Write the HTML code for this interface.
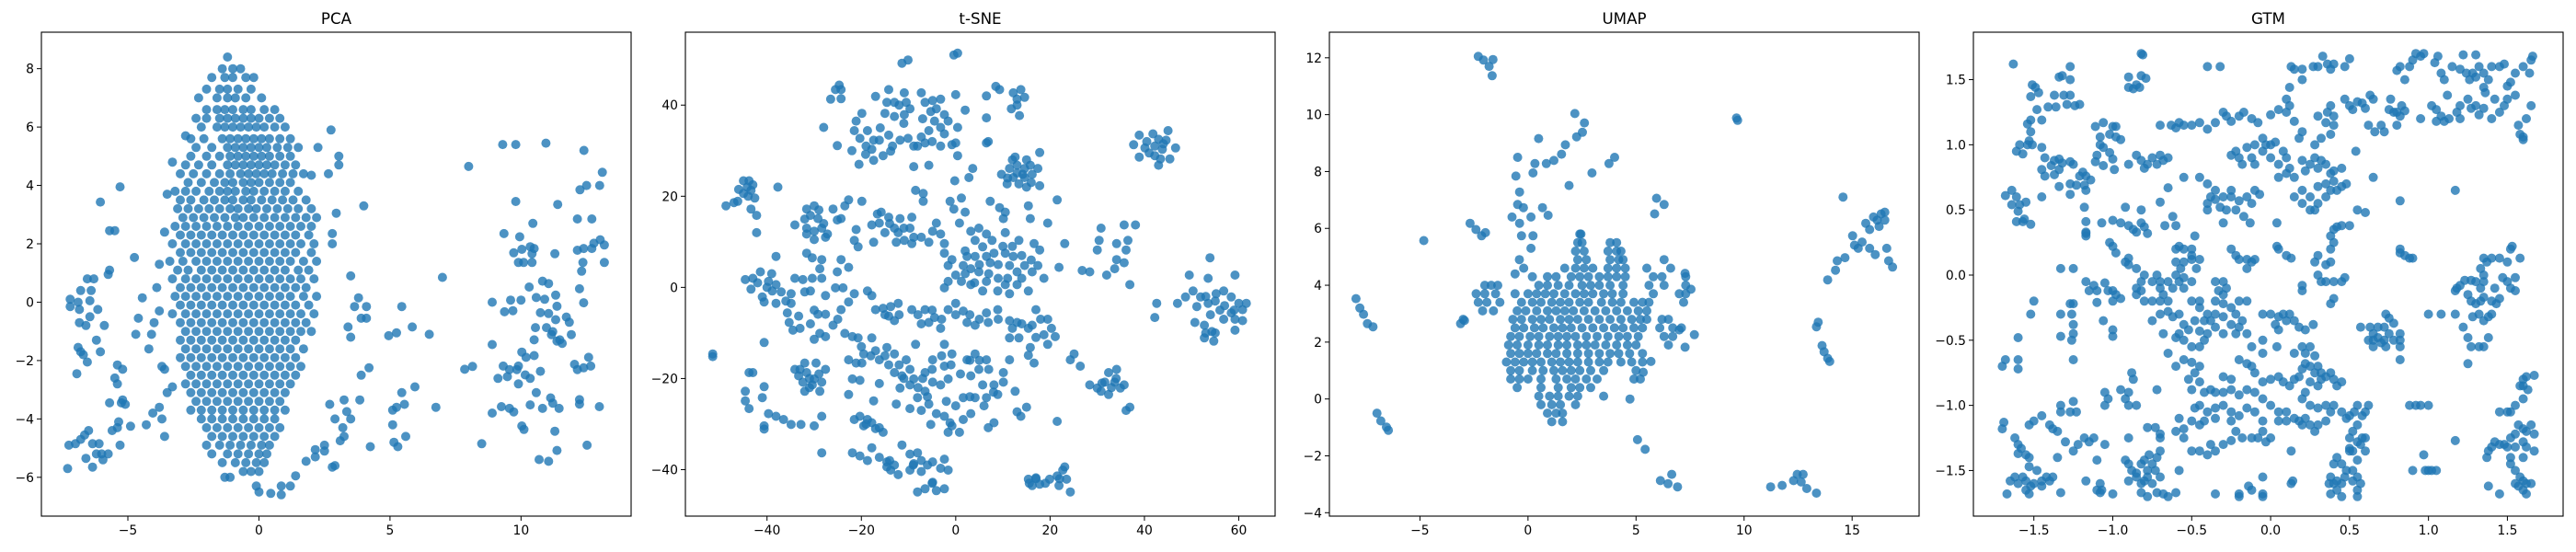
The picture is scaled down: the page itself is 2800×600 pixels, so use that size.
<!DOCTYPE html>
<html><head><meta charset="utf-8"><title>Dimensionality reduction comparison</title>
<style>
html,body{margin:0;padding:0;background:#fff;}
svg{display:block;font-family:"DejaVu Sans","Liberation Sans",sans-serif;}
</style></head>
<body>
<svg id="fig" width="2800" height="600" viewBox="0 0 2800 600" xmlns="http://www.w3.org/2000/svg"></svg>
<script>
// ---------------- PCA data ----------------
const pcaXTicks = [-5, 0, 5, 10];
const pcaYTicks = [-6, -4, -2, 0, 2, 4, 6, 8];
const pcaCoreRows = [
[8.4,[-1.2]],[8.0,[-1.4,-1.0,-0.7]],[7.7,[-1.8,-1.3,-1.0,-0.5,-0.2]],[7.3,[-2.0,-1.5,-1.2,-0.8,-0.3]],
[7.0,[-2.3,-1.6,-1.2,-0.9,-0.5,0.1]],[6.6,[-2.0,-1.6,-1.3,-1.0,-0.6,-0.3,0.2,0.6]],
[6.3,[-2.4,-2.0,-1.5,-1.2,-0.9,-0.6,-0.3,0,0.4,0.8]],[6.0,[-2.2,-1.6,-1.3,-1.0,-0.7,-0.4,-0.1,0.2,0.6,1.0]],
[5.6,[-2.6,-2.1,-1.4,-1.1,-0.8,-0.5,-0.2,0.1,0.4,0.8,1.2]],[5.3,[-2.4,-1.8,-1.2,-0.9,-0.6,-0.3,0,0.3,0.7,1.1,1.5]],
[5.0,[-2.6,-2.0,-1.5,-1.1,-0.8,-0.5,-0.2,0.1,0.4,0.8,1.2]],[4.7,[-2.8,-2.3,-1.8,-1.2,-0.9,-0.6,-0.3,0,0.3,0.6,1.0,1.4]],
[4.4,[-3.0,-2.5,-2.0,-1.5,-1.1,-0.7,-0.4,-0.1,0.2,0.5,0.9,1.3,1.7]],[4.1,[-2.7,-2.2,-1.7,-1.3,-1.0,-0.6,-0.3,0,0.4,0.8,1.2]],
[3.8,[-3.2,-2.8,-2.4,-1.9,-1.5,-1.2,-0.9,-0.5,-0.2,0.2,0.6,1.0,1.5]],[3.5,[-3.0,-2.6,-2.1,-1.7,-1.3,-1.0,-0.6,-0.3,0.1,0.5,0.9,1.3,1.8]],
[3.2,[-3.1,-2.7,-2.3,-1.9,-1.5,-1.1,-0.8,-0.4,-0.1,0.3,0.7,1.1,1.5,2.0]],[2.9,[-2.9,-2.5,-2.1,-1.7,-1.3,-0.9,-0.6,-0.2,0.2,0.6,1.0,1.4,1.8,2.2]],
[2.6,[-3.2,-2.8,-2.4,-2.0,-1.6,-1.2,-0.8,-0.4,0,0.4,0.8,1.2,1.6,2.0]],[2.3,[-3.0,-2.6,-2.2,-1.8,-1.4,-1.0,-0.6,-0.2,0.2,0.6,1.0,1.4,1.9]],
[2.0,[-3.3,-2.8,-2.4,-2.0,-1.6,-1.2,-0.8,-0.4,0,0.4,0.8,1.2,1.6,2.1]],[1.7,[-3.0,-2.6,-2.2,-1.8,-1.4,-1.0,-0.6,-0.2,0.2,0.6,1.0,1.4,2.0]],
[1.4,[-3.4,-2.9,-2.4,-2.0,-1.6,-1.2,-0.8,-0.4,0,0.4,0.8,1.2,1.7,2.2]],[1.1,[-3.1,-2.7,-2.2,-1.8,-1.4,-1.0,-0.6,-0.2,0.2,0.6,1.0,1.5,1.9]],
[0.8,[-3.3,-2.8,-2.4,-2.0,-1.6,-1.2,-0.8,-0.4,0,0.4,0.8,1.2,1.6,2.1]],[0.5,[-3.0,-2.6,-2.2,-1.8,-1.4,-1.0,-0.6,-0.2,0.2,0.6,1.0,1.4,1.8]],
[0.2,[-3.2,-2.8,-2.4,-2.0,-1.6,-1.2,-0.8,-0.4,0,0.4,0.8,1.2,1.7,2.2]],[-0.1,[-3.0,-2.6,-2.2,-1.8,-1.4,-1.0,-0.6,-0.2,0.2,0.6,1.0,1.4,1.9]],
[-0.4,[-3.3,-2.8,-2.4,-2.0,-1.6,-1.2,-0.8,-0.4,0,0.4,0.8,1.2,1.6,2.1]],[-0.7,[-3.0,-2.6,-2.2,-1.8,-1.4,-1.0,-0.6,-0.2,0.2,0.6,1.0,1.4,1.8]],
[-1.0,[-2.8,-2.4,-2.0,-1.6,-1.2,-0.8,-0.4,0,0.4,0.8,1.2,1.6,2.0]],[-1.3,[-3.0,-2.6,-2.2,-1.8,-1.4,-1.0,-0.6,-0.2,0.2,0.6,1.0,1.4]],
[-1.6,[-2.8,-2.4,-2.0,-1.6,-1.2,-0.8,-0.4,0,0.4,0.8,1.2,1.7]],[-1.9,[-3.0,-2.6,-2.2,-1.8,-1.4,-1.0,-0.6,-0.2,0.2,0.6,1.0,1.4]],
[-2.2,[-2.8,-2.4,-2.0,-1.6,-1.2,-0.8,-0.4,0,0.4,0.8,1.2,1.6]],[-2.5,[-2.6,-2.2,-1.8,-1.4,-1.0,-0.6,-0.2,0.2,0.6,1.0,1.4]],
[-2.8,[-2.8,-2.4,-2.0,-1.6,-1.2,-0.8,-0.4,0,0.4,0.8,1.2]],[-3.1,[-2.6,-2.2,-1.8,-1.4,-1.0,-0.6,-0.2,0.2,0.6,1.0]],
[-3.4,[-2.4,-2.0,-1.6,-1.2,-0.8,-0.4,0,0.4,0.8]],[-3.7,[-2.6,-2.2,-1.8,-1.4,-1.0,-0.6,-0.2,0.2,0.6,1.0]],
[-4.0,[-2.2,-1.8,-1.4,-1.0,-0.6,-0.2,0.2,0.6]],[-4.3,[-2.0,-1.6,-1.2,-0.8,-0.4,0,0.4,0.8]],
[-4.6,[-1.8,-1.4,-1.0,-0.6,-0.2,0.2,0.6]],[-4.9,[-2.0,-1.5,-1.1,-0.7,-0.3,0.1,0.4]],
[-5.2,[-1.8,-1.2,-0.8,-0.4,0,0.3]],[-5.5,[-1.4,-0.9,-0.5,-0.1,0.2]],[-5.8,[-0.6,-0.3,0]],[-6.0,[-1.3,-1.1]]
];
const pcaPts = [
[-5.3,3.95],[-6.05,3.43],[-5.7,2.45],[-5.5,2.45],[-5.7,1.1],[-5.75,0.95],[-4.75,1.53],[-6.55,0.8],[-6.3,0.8],
[-7.2,0.1],[-7.2,-0.15],[-6.9,0],[-6.85,-0.25],[-6.45,0.05],[-6.4,0.4],[-6.8,0.4],[-6.15,-0.25],[-5.9,-0.8],[-6.85,-0.7],[-6.45,-0.5],[-6.6,-0.8],
[-6.9,-1.55],[-6.8,-1.7],[-6.7,-1.8],[-6.55,-2.05],[-6.95,-2.45],[-6.2,-1.3],[-6.05,-1.7],
[-5.4,-2.15],[-5.2,-2.3],[-5.5,-2.6],[-5.4,-2.8],[-5.7,-3.45],[-5.2,-3.35],[-5.25,-3.45],[-5.1,-3.5],
[-5.35,-4.1],[-5.6,-4.4],[-5.4,-4.3],[-5.3,-4.9],[-4.9,-4.25],
[-7.25,-4.9],[-7.0,-4.85],[-6.8,-4.7],[-6.65,-4.55],[-6.5,-4.4],[-6.35,-4.85],[-6.1,-4.85],[-6.0,-5.2],[-5.95,-5.4],[-6.2,-5.2],[-6.6,-5.35],[-6.35,-5.65],[-7.3,-5.7],[-5.75,-5.2],
[-4.45,0.15],[-4.6,-0.55],[-4.7,-1.1],[-4.1,-1.1],[-4.2,-1.6],[-4.3,-4.2],[-4.05,-3.8],[-3.8,-3.6],[-3.7,-4.0],[-3.6,-4.6],
[-3.7,-2.2],[-3.6,-2.3],[-3.5,-3.1],[-3.3,-2.9],[-2.8,5.7],[-3.3,4.8],[-3.5,3.7],[-3.6,2.4],[-3.8,1.3],[-3.9,0.5],[-3.8,-0.3],[-4.0,-0.7],
[2.25,5.3],[2.0,4.35],[2.75,5.9],[3.05,5.0],[3.05,4.7],[2.65,4.4],[2.95,3.05],[2.8,2.35],[2.8,2.0],[3.5,0.9],[3.8,0.15],[4.1,-0.15],[3.65,-0.15],[3.9,-0.55],[4.1,-0.55],[3.4,-0.85],[3.5,-1.2],
[4.0,3.3],[7.0,0.85],[5.45,-0.15],[4.95,-1.15],[5.25,-1.05],[5.85,-0.85],[6.5,-1.1],
[5.45,-3.1],[5.95,-2.9],[5.1,-3.7],[5.25,-3.6],[5.55,-3.5],[5.1,-4.2],[5.15,-4.8],[5.3,-4.95],[5.6,-4.6],[6.75,-3.6],
[4.2,-2.25],[3.9,-2.5],[3.85,-3.35],[4.25,-4.95],[3.5,-4.0],[3.35,-3.75],[3.25,-3.35],[2.9,-4.0],[2.7,-3.5],[3.2,-4.3],[3.25,-4.6],[3.1,-4.75],[2.8,-5.65],[2.9,-5.6],[2.5,-4.9],[2.5,-5.1],[2.15,-5.05],[2.15,-5.3],[1.8,-5.45],[1.4,-5.95],[1.2,-6.3],[0.85,-6.3],[0.85,-6.6],[0.45,-6.55],[-0.1,-6.3],[0,-6.5],
[7.85,-2.3],[8.15,-2.2],[8.0,4.65],[8.5,-4.85],[8.9,0],[8.9,-1.45],[8.9,-3.8],
[9.3,5.4],[9.8,5.4],[9.35,2.35],[9.8,3.45],[10.95,5.45],[12.4,5.2],[13.1,4.45],[13.0,4.0],[12.5,4.0],[12.25,3.85],[11.4,3.35],[10.45,2.7],[12.15,2.85],[12.7,2.85],
[9.95,2.24],[10.35,1.9],[10.42,1.66],[9.72,1.69],[9.9,1.36],[10.1,1.36],[10.42,1.36],[10.5,1.84],[10.03,1.81],[10.82,0.72],[11.05,0.64],[11.29,1.66],[10.31,0.52],
[9.6,0.07],[10.0,0.07],[9.69,-0.29],[9.37,-0.33],[10.58,0.16],[10.9,0.1],[10.74,-0.36],[11.05,-0.39],[10.55,-0.87],[10.97,-0.87],[11.32,0.24],[11.37,-0.14],[11.32,-0.6],
[11.21,-1.01],[10.5,-1.29],[11.16,-1.11],[11.37,-1.33],[11.48,-1.29],[11.73,-0.51],[11.84,-0.69],[12.15,1.78],[12.36,1.36],[12.39,1.84],[12.7,1.84],[12.78,2.02],[13.18,1.96],
[13.02,2.14],[13.18,1.36],[12.31,1.06],[12.23,0.46],[12.39,-0.02],[11.92,-1.11],[11.57,-1.41],
[10.03,-1.71],[10.19,-1.89],[10.5,-1.83],[9.9,-2.19],[9.56,-2.31],[9.32,-2.19],[9.12,-2.61],[9.48,-2.55],[9.84,-2.31],[10.16,-2.49],[10.35,-2.61],[10.74,-2.37],[9.9,-2.8],
[10.35,-3.52],[10.58,-3.1],[11.13,-3.28],[11.21,-3.46],[11.45,-3.64],[9.25,-3.58],[9.56,-3.64],[9.72,-3.76],[10.03,-4.24],[10.11,-4.36],[10.69,-5.39],[11.05,-5.45],[11.37,-5.08],
[11.29,-4.42],[10.82,-3.64],[12.04,-2.13],[12.15,-2.31],[12.39,-2.25],[12.58,-1.89],[12.66,-2.19],[12.23,-3.34],[12.23,-3.49],[12.99,-3.58],[12.52,-4.9]
];

// ---------------- t-SNE data ----------------
const tsneXTicks = [-40, -20, 0, 20, 40, 60];
const tsneYTicks = [-40, -20, 0, 20, 40];
const tsnePts = [
[-0.4,51],[0.4,51.4],[-11.4,49.2],[-10.1,49.9],[-24.7,44.4],[-25.5,43.4],[-24.3,43.4],[-26.5,41.3],[-24.3,41.4],[-28,35.1],[-25.1,31.1],
[-21.1,36.5],[-21.5,34.4],[-19.9,38.2],[-20.3,32.7],[-18.7,34.4],[-17.4,32.3],[-17.8,30.3],[-19.1,29.2],[-17.4,27.9],[-15.4,28.9],[-16.2,32.3],[-14.2,33.4],[-13.4,31],[-13.8,29.9],[-20.5,27],
[-17,41.9],[-14.2,43.4],[-14.6,40.6],[-13,40.6],[-15,38.2],[-13,37.5],[-10.9,42.7],[-10.5,40.6],[-9.7,39.2],[-10.9,37.9],[-7.3,42.7],[-6.5,40.6],[-4.9,41],[-5.3,38.6],[-4.1,39.2],[-3.2,41.3],
[-4.5,36.5],[-2.4,37.9],[-1.6,36.5],[-3.2,35.1],[-5.7,34.4],[-2.4,33.7],[0.4,35.1],[2,38.9],[0,42.3],[-7.3,33],[-8.1,31],[-6.5,31.7],[-8.9,31],[-10.1,32.7],[-11.8,32.3],[-8.9,26.5],[-5.7,26.8],[-3.2,31],[-0.8,31.3],[0.4,28.9],[0,31.7],
[6.5,42],[8.5,44.1],[9.3,43.4],[12.2,42.7],[13.8,43.4],[14.6,41.7],[13,41.3],[11.8,39.2],[13.5,37.7],[6.5,37.2],[6.5,31.7],[6.9,32],
[12.6,28.6],[11.4,26.1],[13,26.8],[14.6,26.1],[15.8,26.8],[17.8,29.6],[17.4,26.1],[9.7,24.8],[12.2,24.1],[14.6,24.1],[16.2,24.8],[10.9,22.7],[13.4,22.7],[15,22],[17.8,22.3],[14.2,24.8],[13,25.1],
[37.7,31.3],[38.9,33.4],[40.1,30.6],[41.8,33.7],[42.2,31],[43.8,30.3],[43.4,28.2],[45,34.4],[44.6,32.3],[46.6,30.6],[42.2,28.9],[38.9,28.6],[45.4,28.2],[43,26.8],
[-45,23.4],[-44.2,22],[-45,20.6],[-43.4,21.3],[-42.6,19.6],[-46.2,18.9],[-48.7,17.9],[-47,18.6],[-43.4,17.2],[-42.2,15.8],[-42.2,12],[-37.7,22],[-43.8,23.4],
[-31.6,17.2],[-30,17.9],[-30.8,15.8],[-29.2,15.1],[-31.6,13],[-30,12.3],[-28.4,13],[-27.6,11],[-31.6,11.7],[-34.1,13.7],[-26,17.2],[-24.3,15.1],[-23.5,17.9],[-22.7,19.2],[-19.9,18.9],[-25.1,14.8],[-21.1,12.7],[-21.5,10.3],[-20.7,8.9],[-27.2,11.7],
[-16.6,16.1],[-15.8,16.5],[-14.2,15.4],[-11.8,15.1],[-9.3,15.4],[-17.8,13.7],[-16.2,14.1],[-13,13],[-12.2,12],[-9.7,13],[-8.9,11],[-12.6,9.9],[-10.9,10.3],[-9.3,9.6],[-7.3,11],[-5.7,9.9],[-17.4,9.9],
[-8.5,21.3],[-6.9,20.6],[-6.9,18.9],[-1.2,18.9],[1.2,19.6],[-0.4,17.2],[2,16.5],[0.8,14.1],[-4.1,14.1],[-4.9,12.3],[-3.2,11.7],[-2.4,9.6],[-0.2,23.4],[2.8,24.1],[3.6,26.1],[7.3,18.9],[9.3,17.5],[10.5,16.5],[10.1,15.1],[15.4,17.9],[15.8,15.1],[19.5,14.1],[21.5,19.2],
[3.2,12.3],[4.9,13],[6.5,11.7],[4.1,10.3],[5.7,8.9],[7.7,10.3],[10.5,12],[13.4,10.3],[16.6,9.6],[17.8,8.2],[23.1,9.6],[4.1,6.8],[6.5,6.8],[2.4,6.8],[1.6,4.8],[-0.8,6.1],[-2.4,7.5],[-1.6,4.8],[0,2.7],[3.2,4.1],[4.9,3.4],[7.3,5.4],[8.1,7.5],[10.5,7.5],[12.2,6.8],[11.4,4.8],[13,3.4],[14.6,4.8],[16.2,3.4],[17.4,4.8],[18.7,2],[21.9,4.4],[26.8,3.7],[28.4,3.4],
[10.5,0.6],[13,0.6],[15.4,-0.8],[11.4,-1.4],[8.9,-0.8],[6.5,1.3],[5.7,-0.8],[3.2,0.6],[1.2,1.3],[-1.6,1.3],[-2.4,-0.1],
[-44.6,1.7],[-43,2],[-41.4,3.4],[-39.7,1.3],[-38.1,0.6],[-38.9,-0.8],[-41,-2.1],[-40.6,-3.2],[-38.1,-3.5],[-43.4,-0.4],[-34.9,-1.4],[-34.1,2],[-32.4,1.7],[-30.4,2],[-28.4,2],[-30.8,-0.8],[-27.6,-1.8],[-25.5,-0.1],[-25.1,3.4],[-24.3,6.1],[-22.7,4.4],
[-30.4,6.5],[-31.6,7.5],[-28.4,6.1],[-28.8,4.1],[-38.1,6.8],[-34.9,-3.5],[-35.7,-5.6],[-33.3,-6.3],[-35.3,-7.7],[-34.5,-9.4],[-30.8,-8],[-30,-11.4],[-28.8,-10.1],[-27.6,-10.8],[-26,-8.3],[-24.3,-4.9],[-22.7,-3.2],[-21.5,-1.4],[-23.9,-0.1],[-27.6,-5.9],[-29.2,-5.9],[-17.8,-1.8],[-18.7,-0.8],
[-17,-4.9],[-15.4,-4.6],[-13.8,-4.2],[-12.2,-3.5],[-14.2,-6.3],[-13,-7.3],[-9.3,-4.9],[-6.5,-4.9],[-5.7,-7.7],[-7.3,-8],[-4.5,-6.6],[-3.2,-9],[-1.6,-4.9],[0,-3.5],[1.6,-5.2],[2.4,-7.7],[4.1,-8.3],[6.5,-5.6],[6.9,-7.7],[8.9,-4.9],[11.4,-7.3],[13,-7.7],[11.4,-11.1],[13.4,-11.1],[15.4,-9],[17,-4.9],[16.2,-8.3],[19.5,-7],[20.3,-9],[18.7,-10.4],[19.5,-12.5],[21.1,-10.8],[15.8,-13.2],[15.4,-14.9],[16.6,-16.6],[12.6,-22.8],[15,-26.3],[13.8,-28.3],[13,-27.3],[21.5,-29.4],[24.3,-15.9],[26.4,-17.3],[25.1,-14.6],
[-23.5,-10.1],[-21.9,-10.8],[-20.7,-11.1],[-17.8,-11.1],[-22.7,-15.9],[-21.1,-16.6],[-19.5,-14.6],[-19.9,-16.6],[-17,-13.9],[-16.2,-15.9],[-14.6,-13.2],[-13,-14.6],[-14.2,-17],[-13,-18.7],[-10.5,-15.9],[-9.7,-18],[-11.4,-19.4],[-8.9,-20.1],[-9.7,-21.4],[-11.8,-22.1],[-16.2,-21.1],[-20.3,-20.4],[-21.9,-20.1],[-22.7,-23.5],[-17.4,-24.9],[-12.6,-25.6],
[-8.5,-12.5],[-6.5,-18.7],[-4.9,-15.9],[-2.4,-12.5],[-0.8,-14.6],[-2.4,-17.3],[-1.6,-20.1],[-3.2,-21.4],[-4.9,-20.8],[-6.5,-22.8],[-8.1,-24.2],[-9.7,-26.6],[-7.3,-27],[-5.7,-25.6],[-4.1,-27.7],[-2.4,-28.3],[-0.8,-30.4],[0.8,-31.8],[1.6,-29],[3.2,-27.7],
[2.4,-15.9],[4.1,-14.6],[4.9,-18],[6.5,-15.9],[3.2,-19.4],[5.7,-21.4],[4.1,-24.2],[1.6,-24.2],[6.5,-24.2],[8.9,-23.5],[8.1,-21.4],[10.1,-18.7],[11.4,-15.9],[10.1,-20.8],[-1.6,-31.8],[-1.2,-29.7],[-5.3,-30.1],[6.9,-30.8],[8.1,-29.7],
[-34.1,-18],[-33.3,-19.4],[-31.6,-18.7],[-30,-20.1],[-32.4,-20.8],[-30.4,-21.4],[-28.4,-20.8],[-27.6,-18],[-29.6,-16.6],[-32,-16.6],[-28.8,-22.8],[-32,-22.8],
[-43.8,-18.7],[-43,-18.7],[-44.6,-22.8],[-44.6,-24.9],[-43.8,-26.6],[-40.6,-21.8],[-41,-24.2],[-39.7,-27.7],[-38.1,-28.3],[-36.5,-29],[-34.9,-30.1],[-32.8,-30.1],[-30,-30.4],[-28.4,-28.3],[-40.6,-30.4],[-40.6,-31.1],
[-51.5,-14.6],[-51.5,-15.2],[-40.6,-12.1],[-28.4,-36.3],[-21.9,-36.3],[-20.3,-37],
[-21.5,-29],[-20.3,-28.3],[-18.7,-29],[-19.5,-30.4],[-17.8,-29.7],[-16.2,-30.8],[-15.4,-31.8],[-11.4,-34.6],[-17.8,-35.2],[-18.7,-38],[-16.2,-37.3],[-14.6,-38.3],[-13.8,-40.1],[-12.2,-41.1],[-14.6,-39.4],
[-9.7,-36.6],[-8.1,-36.3],[-8.9,-38.7],[-7.3,-38],[-9.7,-40.1],[-7.3,-40.4],[-4.9,-38.3],[-2.4,-37.7],[-1.6,-40.1],[-3.2,-39.7],[-8.1,-44.9],[-6.5,-44.2],[-4.9,-42.8],[-4.1,-44.6],[-2.4,-44.2],
[15.4,-42.1],[16.2,-43.5],[17,-41.8],[17.8,-43.2],[19.9,-42.1],[21.5,-41.4],[22.7,-40.1],[21.9,-43.5],[23.5,-42.1],[24.3,-44.9],[23.1,-39.4],[15.6,-43],
[30.8,13],[30.4,10.3],[30,8.2],[34.1,9.6],[35.7,13.7],[36.5,10.3],[36.1,8.2],[34.1,6.1],[33.7,4.1],[35.7,5.4],[36.9,0.6],[32,2.7],[38.1,13.7],
[42.6,-3.5],[42.2,-6.6],[47,-3.5],[48.7,-2.1],[50.3,-0.8],[51.9,-2.1],[51.1,-4.2],[53.5,-3.5],[55.2,-1.4],[56.8,-0.8],[58.4,-2.1],[60,-3.5],[61.6,-3.5],[60.8,-4.9],[58.4,-5.6],[56.8,-7],[59.2,-7],[60.8,-7.3],
[52.7,-8.3],[54.3,-9.7],[52.7,-11.1],[54.7,-11.8],[59.2,-9.4],[49.5,2.7],[53.5,2],[53.9,6.5],[59.2,2.7],[50.7,-7.7],
[28.4,-21.4],[30,-22.1],[31.6,-20.8],[32.4,-18.7],[34.1,-18],[33.7,-20.8],[34.9,-22.1],[35.7,-21.4],[32.4,-23.5],[30.8,-22.8],[36.1,-27],[36.9,-26.3],
[-12,40],[-11,36],[-7,37],[-5,32],[-19,31],[-22,30],[-16,35],[13,40],[12,28],[15,28],[16,23],[11,24],
[40.5,32],[43,32.5],[41,29.5],[44,31.5],[-46,21.5],[-44,20],[-43,22.5],[-32,15],[-29,17],[-28,14],[-30,10.5],
[-14,14],[-11,13],[-15,12],[2,8],[5,5],[7,3],[9,5],[10,9],[12,9],[14,7],[16,6],[11,2],[14,2],[9,2],[4,1],[2,3],
[-40,0],[-42,1],[-39,3],[-37,-1],[-32,-1],[-36,-3],[-30,-5],[-33,-9],[-25,-7],[-15,-6],[-12,-6],[-8,-6],[-5,-5],[-3,-7],[0,-6],[3,-6],[5,-7],[9,-7],[12,-9],[14,-8],[18,-7],[17,-11],
[-20,-13],[-18,-15],[-15,-15],[-12,-17],[-11,-20],[-7,-20],[-5,-18],[-3,-15],[-1,-17],[1,-19],[3,-16],[5,-16],[7,-18],[8,-23],[6,-26],[3,-24],[0,-26],[-2,-25],[-6,-24],[-8,-22],
[-33,-18],[-31,-20],[-29,-19],[-31,-22],[-19,-30],[-17,-31],[-14,-38],[-13,-39],[-9,-39],[-6,-39],[-5,-43],[17,-42],[19,-43],[22,-42],
[53,-2],[55,-3],[57,-4],[59,-5],[54,-6],[56,-5],[53,-10],[55,-10],[31,-21],[33,-22],[34,-20]
];

// ---------------- UMAP data ----------------
const umapXTicks = [-5, 0, 5, 10, 15];
const umapYTicks = [-4, -2, 0, 2, 4, 6, 8, 10, 12];
const umapCoreRows = [
[5.8,[2.4,2.45]],[5.5,[2.3,2.5,3.8,4.1]],[5.2,[2.2,2.6,3.7,4.1,4.3]],[4.9,[2.3,2.7,3.8,4.2,4.4,6.3]],
[4.6,[1.7,2.2,2.6,3.0,3.7,4.1,4.5,5.5,6.6]],[4.3,[0.9,1.3,2.0,2.4,2.8,3.3,3.7,4.1,4.5,5.8,6.2,7.3]],
[4.0,[-2.0,-1.7,-1.4,0.5,0.9,1.4,1.9,2.5,2.9,3.3,3.8,4.4,5.6,6.3,7.3]],
[3.7,[-2.4,-2.0,-1.5,-0.6,0,0.4,0.8,1.2,1.7,2.2,2.6,3.0,3.5,3.9,4.4,5.8,7.0,7.3]],
[3.4,[-2.3,-1.9,-1.3,-0.3,0.2,0.6,1.1,1.5,1.9,2.4,2.8,3.4,3.9,4.3,4.9,5.3,5.6,7.2]],
[3.1,[-2.1,-1.6,-0.5,-0.1,0.4,0.9,1.3,1.7,2.1,2.6,3.1,3.6,4.1,4.6,5.1,5.5]],
[2.8,[-3.0,-0.7,-0.3,0.2,0.6,1.0,1.5,1.9,2.3,2.8,3.3,3.8,4.3,4.8,5.2,5.5,6.2,6.5]],
[2.5,[-0.6,-0.2,0.3,0.7,1.2,1.6,2.0,2.5,3.0,3.5,4.0,4.4,4.9,5.3,6.1,6.7,7.1]],
[2.2,[-0.8,-0.4,0.1,0.5,1.0,1.4,1.8,2.2,2.7,3.2,3.7,4.2,4.6,5.1,6.3,6.7]],
[1.9,[-0.9,-0.5,0,0.5,0.9,1.4,1.8,2.3,2.7,3.1,3.6,4.1,4.6,5.0,6.5]],
[1.6,[-0.8,-0.4,0,0.4,0.9,1.3,1.8,2.3,2.8,3.3,3.8,4.2,4.7,5.3]],
[1.3,[-1.0,-0.6,-0.2,0.2,0.6,1.1,1.5,1.9,2.3,2.8,3.3,3.7,4.3,4.8,5.3]],
[1.0,[-0.8,-0.4,0.2,0.7,1.2,1.6,2.0,2.4,2.9,3.5,5.0]],[0.7,[-0.8,-0.4,0,0.6,1.3,1.8,2.2,2.7,3.2,4.9,5.2]],
[0.4,[-0.5,0.6,1.4,2.0,2.4,2.9]],[0.1,[0.5,1.0,1.4,1.9,2.3,3.5]],[-0.2,[0.6,1.1,1.5,2.2]],[-0.5,[0.9,1.3,1.6]],[-0.8,[1.1,1.6]]
];
const umapPts = [
[-2.3,12.05],[-2.06,11.92],[-1.62,11.94],[-1.8,11.7],[-1.66,11.37],[9.65,9.88],[9.7,9.8],
[-7.96,3.53],[-7.78,3.2],[-7.61,2.98],[-7.43,2.65],[-7.17,2.54],[-6.99,-0.5],[-6.81,-0.77],[-6.55,-0.99],[-6.46,-1.1],
[-4.82,5.57],[-2.68,6.18],[-2.41,5.96],[-2.15,5.74],[-1.97,5.85],[-3.12,2.65],[-2.94,2.76],
[-0.48,8.5],[-0.56,7.84],[-0.39,7.28],[-0.48,6.84],[-0.74,6.4],[-0.39,6.18],[-0.3,5.74],[0.14,5.3],[0.23,5.74],[-0.21,6.73],[0.14,6.4],[0.67,6.73],[0.93,6.46],
[0.32,8.28],[0.23,7.95],[0.49,9.16],[0.85,8.28],[1.2,8.39],[1.55,8.61],[1.73,8.94],[1.9,7.51],[2.96,7.95],[3.75,8.28],[4.01,8.5],[2.17,10.04],[2.61,9.71],[2.52,9.38],[2.25,9.22],
[5.95,7.06],[5.86,6.51],[6.3,6.84],[-0.4,4.9],[-0.2,4.6],[0.2,4.3],[-0.6,4.4],
[4.72,0],[5.07,-1.43],[5.42,-1.77],[6.13,-2.87],[6.65,-2.65],[6.92,-3.09],[6.48,-2.98],
[11.23,-3.09],[11.76,-3.04],[12.29,-2.87],[12.46,-2.65],[12.73,-2.65],[12.64,-2.92],[12.9,-3.15],[13.35,-3.31],
[13.35,2.54],[13.43,2.7],[13.61,1.88],[13.7,1.66],[13.87,1.43],[13.96,1.32],[14.58,7.1],
[13.87,4.19],[14.23,4.53],[14.31,4.86],[14.67,4.97],[15.02,5.74],[15.11,5.41],[15.28,5.3],[15.46,5.52],[15.63,6.18],[15.81,5.96],[15.99,6.4],[16.16,6.29],[16.34,6.51],[16.51,6.57],
[16.25,6.07],[16.51,6.29],[16.6,5.3],[16.69,4.86],[16.87,4.64],[16.07,5.08],[15.81,5.3],
[7.27,4.42],[7.54,3.86],[7.0,2.43],[7.7,2.26],[7.27,1.82],[5.69,1.32],[5.33,0.94]
];

// ---------------- GTM data ----------------
const gtmXTicks = [-1.5, -1.0, -0.5, 0.0, 0.5, 1.0, 1.5];
const gtmYTicks = [-1.5, -1.0, -0.5, 0.0, 0.5, 1.0, 1.5];
const gtmPts = [
[-1.63,1.62],[-1.27,1.6],[-1.34,1.52],[-1.27,1.5],[-1.32,1.53],[-1.52,1.37],[-1.51,1.46],[-1.47,1.40],[-1.49,1.44],
[-1.37,1.38],[-1.31,1.38],[-1.27,1.38],[-1.29,1.31],[-1.24,1.3],[-1.21,1.31],[-1.36,1.29],[-1.41,1.29],
[-1.48,1.27],[-1.52,1.19],[-1.45,1.19],[-1.54,1.16],[-1.52,1.1],[-1.53,1.03],[-1.51,1.0],[-1.54,1.0],[-1.45,0.98],[-1.59,1.0],[-1.61,0.95],[-1.57,0.93],
[-1.43,0.9],[-1.37,0.88],[-1.32,0.86],[-1.27,0.87],[-1.34,0.89],[-1.39,0.84],[-1.45,0.81],[-1.43,0.76],[-1.37,0.77],[-1.34,0.68],[-1.27,0.7],[-1.23,0.69],[-1.19,0.79],[-1.17,0.76],[-1.14,0.73],[-1.21,0.76],[-1.18,0.69],[-1.17,0.65],[-1.18,0.52],[-1.17,0.41],[-1.17,0.33],
[-1.68,0.61],[-1.64,0.65],[-1.61,0.6],[-1.59,0.54],[-1.55,0.56],[-1.64,0.54],[-1.6,0.49],[-1.56,0.43],[-1.52,0.39],[-1.61,0.41],[-1.57,0.41],[-1.45,0.6],[-1.27,0.62],[-1.34,0.81],
[-1.11,1.14],[-1.06,1.17],[-1.0,1.14],[-1.02,1.08],[-1.08,1.06],[-0.98,1.06],[-0.95,1.04],[-1.06,0.98],[-1.02,0.94],[-1.1,0.92],[-1.11,0.87],[-1.06,0.84],[-1.0,0.89],[-0.99,0.81],[-1.08,1.0],[-0.98,1.14],
[-0.9,1.52],[-0.9,1.44],[-0.87,1.43],[-0.83,1.44],[-0.82,1.53],[-0.79,1.51],[-0.85,1.46],
[-0.82,1.7],[-0.81,1.69],[-0.4,1.6],[-0.32,1.6],[0.13,1.6],[0.15,1.58],[0.2,1.58],[0.27,1.6],[0.2,1.5],[0.3,1.6],[0.33,1.68],[0.36,1.62],[0.4,1.62],[0.38,1.58],[0.47,1.6],[0.5,1.66],[0.12,1.44],[0.1,1.35],[0.12,1.3],[0.05,1.27],[0.0,1.23],[0.1,1.25],
[0.8,1.57],[0.82,1.6],[0.85,1.5],[0.88,1.6],[0.9,1.65],[0.92,1.7],[0.95,1.68],[0.97,1.7],[1.04,1.63],[1.06,1.68],[1.08,1.55],[1.1,1.5],[1.15,1.6],[1.2,1.58],[1.22,1.69],[1.24,1.55],[1.26,1.5],[1.28,1.55],[1.3,1.52],[1.32,1.6],[1.35,1.55],[1.38,1.5],[1.4,1.6],[1.45,1.6],[1.48,1.62],[1.52,1.48],[1.55,1.55],[1.6,1.6],[1.65,1.65],[1.66,1.68],[1.64,1.55],[1.3,1.69],
[1.35,1.44],[1.36,1.4],[1.25,1.35],[1.2,1.3],[1.27,1.28],[1.3,1.3],[1.32,1.23],[1.35,1.28],[1.4,1.2],[1.42,1.35],[1.45,1.25],[1.48,1.3],[1.5,1.35],[1.5,1.45],[1.55,1.38],[1.57,1.15],[1.58,1.08],[1.6,1.04],[1.6,1.06],[1.65,1.3],[1.62,1.2],
[1.05,1.27],[1.08,1.22],[1.1,1.18],[1.13,1.2],[1.12,1.38],[1.02,1.3],[0.95,1.2],[1.05,1.18],[1.2,1.2],[1.18,1.25],
[0.47,1.35],[0.5,1.3],[0.55,1.33],[0.52,1.27],[0.58,1.32],[0.6,1.28],[0.63,1.38],[0.65,1.35],[0.62,1.15],[0.66,1.1],[0.7,1.15],[0.72,1.1],[0.75,1.27],[0.78,1.25],[0.8,1.25],[0.82,1.22],[0.85,1.26],[0.83,1.3],[0.8,1.15],[0.76,1.35],
[0.38,1.3],[0.4,1.22],[0.36,1.25],[0.3,1.22],[0.4,1.15],[0.38,1.08],[0.28,1.0],[0.32,1.05],[0.35,1.17],[0.2,1.1],[0.18,1.05],[0.15,1.18],
[-0.7,1.15],[-0.63,1.15],[-0.6,1.13],[-0.58,1.17],[-0.55,1.15],[-0.5,1.15],[-0.45,1.17],[-0.4,1.12],[-0.35,1.17],[-0.3,1.25],[-0.28,1.22],[-0.25,1.18],[-0.2,1.22],[-0.17,1.25],[-0.12,1.2],[-0.08,1.17],
[-0.05,1.05],[-0.03,1.0],[0.0,1.0],[0.03,1.02],[-0.1,1.0],[-0.15,0.98],[-0.22,0.95],[-0.2,0.9],[-0.18,0.85],[-0.25,0.92],[-0.12,0.9],[-0.1,0.85],[-0.05,0.95],[0.0,0.9],[0.05,0.85],[0.08,0.95],[0.1,0.9],[0.12,0.82],[0.1,0.78],[0.05,0.75],[0.15,0.75],
[0.2,0.88],[0.22,0.8],[0.25,0.85],[0.28,0.9],[0.3,0.82],[0.32,0.88],[0.35,0.85],[0.38,0.78],[0.4,0.8],[0.45,0.82],[0.4,0.72],[0.35,0.7],[0.3,0.68],[0.25,0.6],[0.2,0.65],[0.15,0.6],[0.2,0.55],[0.25,0.5],[0.3,0.55],[0.35,0.6],[0.38,0.65],[0.42,0.65],[0.45,0.68],[0.48,0.7],[0.28,0.5],
[-0.9,0.85],[-0.85,0.92],[-0.82,0.88],[-0.78,0.85],[-0.75,0.9],[-0.7,0.92],[-0.65,0.9],[-0.72,0.85],[-0.68,0.88],[-0.8,0.82],[-1.25,0.85],[-0.55,0.75],[-0.45,0.75],[-0.65,0.67],[-0.7,0.56],[-0.62,0.45],[-0.6,0.38],[-0.67,0.38],
[-0.4,0.7],[-0.38,0.6],[-0.4,0.55],[-0.4,0.5],[-0.35,0.58],[-0.3,0.6],[-0.25,0.6],[-0.2,0.57],[-0.32,0.52],[-0.28,0.5],[-0.22,0.5],[-0.15,0.6],[-0.1,0.65],[-0.07,0.62],[-0.12,0.55],[-0.35,0.65],[-0.25,0.65],[-0.13,0.4],[-0.3,0.4],[0.04,0.4],
[-1.07,0.4],[-1.0,0.42],[-0.95,0.4],[-0.9,0.38],[-0.87,0.35],[-0.82,0.4],[-0.8,0.37],[-0.85,0.33],[-0.78,0.32],[-0.82,0.5],[-0.92,0.52],[-1.02,0.25],[-1.0,0.22],[-0.98,0.17],[-0.92,0.1],[-0.9,0.08],[-0.85,0.05],[-1.17,0.32],[-1.17,0.3],
[-0.6,0.2],[-0.58,0.22],[-0.55,0.2],[-0.5,0.2],[-0.48,0.3],[-0.5,0.15],[-0.6,0.1],[-0.57,0.05],[-0.55,0.1],[-0.6,0.0],[-0.58,-0.05],[-0.55,-0.02],[-0.5,0.12],[-0.45,0.12],[-0.47,0.05],[-0.62,-0.1],[-0.65,-0.05],[-0.7,-0.05],[-0.72,0.0],[-0.75,-0.05],
[-0.68,-0.15],[-0.65,-0.2],[-0.7,-0.2],[-0.65,-0.28],[-0.62,-0.32],[-0.58,-0.3],[-0.55,-0.38],[-0.58,-0.45],[-0.55,-0.5],[-0.6,-0.48],[-0.5,-0.55],[-0.52,-0.42],[-0.45,-0.43],[-0.48,-0.35],[-0.42,-0.35],[-0.45,-0.25],[-0.5,-0.2],[-0.45,-0.2],[-0.4,-0.3],[-0.42,-0.5],[-0.45,-0.55],[-0.55,-0.1],[-0.5,-0.05],
[-1.17,-0.05],[-1.15,-0.12],[-1.12,-0.08],[-1.1,-0.12],[-1.05,-0.06],[-1.03,-0.12],[-1.0,-0.12],[-0.98,-0.15],[-1.0,-0.2],[-1.1,-0.21],[-0.95,-0.18],[-0.85,-0.15],[-0.82,-0.12],[-0.8,-0.2],[-0.75,-0.2],[-0.7,-0.1],[-0.75,-0.35],[-0.7,-0.3],[-0.68,-0.45],[-0.85,-0.1],[-0.82,-0.05],[-0.9,0.13],[-0.8,0.0],
[-1.33,0.05],[-1.25,0.05],[-1.5,-0.2],[-1.52,-0.3],[-1.33,-0.3],[-1.27,-0.22],[-1.25,-0.22],[-1.26,-0.3],[-1.25,-0.38],[-1.25,-0.45],[-1.26,-0.5],[-1.33,-0.47],[-1.06,-0.35],[-1.0,-0.42],[-1.0,-0.47],[-1.6,-0.48],[-1.6,-0.65],[-1.6,-0.72],[-1.25,-0.65],[-1.68,-0.65],[-1.7,-0.7],
[-0.35,-0.05],[-0.3,-0.05],[-0.28,-0.1],[-0.33,-0.12],[-0.3,-0.15],[-0.35,-0.2],[-0.3,-0.22],[-0.25,-0.25],[-0.2,-0.2],[-0.15,-0.2],[-0.22,-0.3],[-0.18,-0.35],[-0.2,-0.4],[-0.25,-0.38],[-0.3,-0.32],[-0.35,-0.3],[-0.38,-0.35],[-0.35,-0.4],[-0.4,-0.45],[-0.3,-0.45],[-0.22,-0.45],[-0.15,-0.45],[-0.12,-0.55],[-0.05,-0.5],
[-0.05,-0.3],[0.0,-0.3],[0.05,-0.32],[0.08,-0.3],[0.12,-0.3],[0.03,-0.38],[0.05,-0.42],[0.1,-0.35],[0.15,-0.35],[0.18,-0.4],[0.22,-0.42],[0.27,-0.38],[0.04,-0.55],[0.15,-0.6],[0.2,-0.55],[0.22,-0.6],[0.25,-0.55],[0.28,-0.62],[0.3,-0.7],[0.32,-0.75],
[-0.17,0.45],[0.04,0.22],[0.05,0.2],[0.13,0.13],[0.1,0.15],[-0.25,0.2],[-0.22,0.15],[-0.2,0.12],[-0.15,0.12],[-0.12,0.1],[-0.15,0.05],[-0.1,0.12],[0.2,-0.08],[0.2,-0.12],[0.3,0.15],[0.28,0.1],[0.3,0.0],[0.32,-0.05],[0.35,0.08],[0.38,0.1],[0.38,0.2],[0.4,0.25],[0.38,0.3],[0.4,0.35],[0.42,0.37],[0.45,0.38],[0.5,0.38],[0.35,-0.05],[0.4,-0.05],[0.45,-0.05],[0.47,-0.02],[0.38,-0.22],[0.4,-0.18],
[0.82,0.2],[0.82,0.17],[0.85,0.15],[0.88,0.13],[0.9,0.13],[0.82,0.57],[0.65,0.75],[0.55,0.5],[0.6,0.48],[0.54,0.95],[1.17,0.65],
[1.0,-0.3],[1.08,-0.3],[1.17,-0.3],[1.18,-0.1],[1.2,-0.08],[1.23,-0.04],[1.27,-0.04],[1.3,-0.05],[1.25,-0.15],[1.27,-0.2],[1.3,-0.22],[1.33,-0.2],[1.35,-0.17],[1.32,-0.3],[1.28,-0.32],[1.35,-0.35],[1.38,-0.32],[1.4,-0.3],[1.33,-0.1],[1.35,0.0],[1.33,0.05],[1.37,0.1],[1.35,0.13],[1.4,0.13],[1.45,0.13],[1.35,-0.05],
[1.4,-0.2],[1.43,-0.22],[1.45,-0.18],[1.42,-0.1],[1.5,-0.05],[1.52,-0.1],[1.55,-0.12],[1.5,0.1],[1.52,0.2],[1.53,0.22],[1.58,0.13],[1.47,-0.02],[1.55,-0.02],[1.25,-0.48],[1.27,-0.55],[1.32,-0.55],[1.35,-0.55],[1.38,-0.48],[1.25,-0.68],[1.22,-0.4],[1.17,-0.12],
[0.57,-0.4],[0.63,-0.4],[0.68,-0.4],[0.65,-0.45],[0.68,-0.48],[0.7,-0.52],[0.72,-0.5],[0.75,-0.45],[0.75,-0.33],[0.73,-0.3],[0.72,-0.4],[0.78,-0.37],[0.78,-0.5],[0.82,-0.5],[0.82,-0.45],[0.82,-0.55],[0.82,-0.65],[0.73,-0.55],[0.65,-0.55],[0.65,-0.5],[0.62,-0.5],
[-0.5,-0.67],[-0.45,-0.7],[-0.48,-0.75],[-0.52,-0.8],[-0.45,-0.82],[-0.5,-0.88],[-0.42,-0.9],[-0.38,-0.88],[-0.35,-0.9],[-0.3,-0.9],[-0.25,-0.88],[-0.2,-0.92],[-0.15,-0.88],[-0.1,-0.9],[-0.05,-0.82],[0.0,-0.8],[0.05,-0.78],[0.08,-0.82],[0.12,-0.85],[0.15,-0.8],[0.18,-0.78],[0.2,-0.72],[0.22,-0.68],[0.25,-0.7],[0.28,-0.75],[0.32,-0.8],[0.35,-0.78],[0.38,-0.75],[0.4,-0.8],[0.42,-0.85],[0.45,-0.82],[0.3,-0.85],[0.25,-0.82],[0.22,-0.9],[0.2,-0.95],
[0.25,-1.0],[0.3,-1.02],[0.35,-1.0],[0.38,-1.05],[0.4,-1.0],[0.45,-1.05],[0.48,-1.1],[0.5,-1.08],[0.53,-1.05],[0.55,-1.0],[0.58,-1.08],[0.6,-1.05],[0.62,-1.0],[0.55,-1.15],[0.52,-1.2],[0.5,-1.25],[0.55,-1.28],[0.58,-1.25],[0.52,-1.35],[0.5,-1.33],[0.55,-1.42],
[-0.05,-0.95],[0.0,-1.0],[0.05,-1.05],[0.1,-1.05],[0.15,-1.1],[0.18,-1.12],[0.2,-1.15],[0.22,-1.1],[0.25,-1.15],[0.28,-1.2],[0.3,-1.15],[0.35,-1.12],[0.1,-1.12],[0.05,-1.12],[-0.05,-1.12],[-0.1,-1.05],[-0.15,-1.02],[-0.2,-1.08],[-0.25,-1.05],[-0.3,-1.0],[-0.35,-1.02],[-0.4,-1.05],[-0.45,-1.0],[-0.48,-1.02],[-0.42,-1.12],[-0.35,-1.1],[-0.25,-1.12],
[-0.22,-1.2],[-0.18,-1.25],[-0.12,-1.25],[-0.08,-1.25],[-0.05,-1.2],[-0.03,-1.28],[0.0,-1.25],[0.13,-1.35],[-0.25,-1.27],[-0.3,-1.3],[-0.35,-1.35],[-0.38,-1.3],[-0.4,-1.38],[-0.45,-1.35],[-0.5,-1.35],[-0.55,-1.25],[-0.6,-1.2],[-0.55,-1.18],[-0.58,-1.1],[-0.5,-1.12],[-0.45,-1.15],[-0.6,-0.7],[-0.55,-0.65],[-0.65,-0.6],
[-0.2,-0.65],[-0.15,-0.68],[-0.12,-0.7],[-0.1,-0.75],[-0.25,-0.8],[-0.3,-0.78],[-0.05,-0.6],
[-0.95,-0.88],[-0.9,-0.9],[-0.92,-0.95],[-0.9,-1.0],[-0.85,-1.0],[-0.87,-0.8],[-0.88,-0.75],[-1.05,-0.9],[-1.03,-0.95],[-1.05,-1.0],[-0.72,-0.88],[-0.78,-1.17],[-0.73,-1.17],[-0.7,-1.22],[-0.7,-1.25],[-0.9,-1.25],
[-0.9,-1.45],[-0.88,-1.5],[-0.85,-1.52],[-0.82,-1.45],[-0.8,-1.42],[-0.78,-1.5],[-0.85,-1.55],[-0.82,-1.6],[-0.8,-1.58],[-0.78,-1.55],[-0.75,-1.45],[-0.72,-1.4],[-0.7,-1.35],[-0.73,-1.5],[-0.77,-1.38],[-0.82,-1.67],[-0.78,-1.7],[-0.72,-1.67],[-0.68,-1.68],[-0.65,-1.7],[-0.6,-1.67],[-0.58,-1.5],[-0.7,-1.55],[-0.75,-1.6],
[-1.7,-1.18],[-1.69,-1.13],[-1.65,-1.58],[-1.62,-1.55],[-1.6,-1.6],[-1.57,-1.55],[-1.55,-1.58],[-1.52,-1.62],[-1.55,-1.65],[-1.5,-1.6],[-1.53,-1.47],[-1.48,-1.5],[-1.45,-1.58],[-1.42,-1.55],[-1.45,-1.62],[-1.4,-1.58],[-1.38,-1.55],[-1.67,-1.68],[-1.53,-1.68],[-1.33,-1.67],
[-1.62,-1.25],[-1.6,-1.3],[-1.58,-1.33],[-1.6,-1.37],[-1.55,-1.38],[-1.53,-1.4],[-1.5,-1.12],[-1.53,-1.15],[-1.45,-1.08],[-1.4,-1.15],[-1.38,-1.18],[-1.35,-1.2],[-1.3,-1.28],[-1.25,-1.35],[-1.22,-1.3],[-1.18,-1.25],[-1.15,-1.28],[-1.12,-1.25],
[-1.17,-1.58],[-1.1,-1.65],[-1.08,-1.6],[-1.07,-1.65],[-1.0,-1.68],[-1.33,-1.0],[-1.33,-1.05],[-1.25,-0.97],[-1.27,-1.05],[-1.23,-1.05],[-1.05,-1.3],[-1.1,-1.42],[-1.08,-1.67],[-0.92,-1.42],[-0.9,-1.58],[-1.35,-1.4],
[-0.35,-1.68],[-0.2,-1.7],[-0.2,-1.68],[-0.14,-1.62],[-0.12,-1.65],[-0.05,-1.68],[-0.05,-1.7],[-0.05,-1.55],[0.13,-1.6],[0.14,-1.58],
[0.37,-1.6],[0.38,-1.55],[0.4,-1.6],[0.42,-1.58],[0.45,-1.6],[0.47,-1.55],[0.4,-1.45],[0.42,-1.4],[0.45,-1.45],[0.48,-1.5],[0.42,-1.65],[0.45,-1.7],[0.38,-1.68],[0.52,-1.58],[0.55,-1.55],[0.57,-1.6],[0.55,-1.65],[0.55,-1.7],[0.52,-1.5],[0.5,-1.35],[0.57,-1.3],[0.6,-1.25],[0.6,-1.35],
[0.9,-1.5],[0.98,-1.5],[1.0,-1.5],[1.02,-1.5],[1.05,-1.5],[0.88,-1.0],[0.92,-1.0],[0.95,-1.0],[1.0,-1.0],[0.97,-1.38],[1.17,-1.27],
[1.6,-0.8],[1.62,-0.78],[1.58,-0.85],[1.6,-0.85],[1.63,-0.88],[1.67,-0.77],[1.6,-0.95],[1.55,-1.0],[1.52,-1.05],[1.5,-1.05],[1.45,-1.05],[1.57,-1.15],[1.6,-1.18],[1.62,-1.2],[1.65,-1.15],[1.67,-1.22],[1.55,-1.22],[1.52,-1.25],[1.48,-1.3],[1.5,-1.32],[1.55,-1.32],[1.6,-1.28],[1.62,-1.32],[1.67,-1.35],
[1.45,-1.3],[1.42,-1.28],[1.4,-1.32],[1.38,-1.35],[1.37,-1.4],[1.52,-1.45],[1.55,-1.5],[1.58,-1.55],[1.6,-1.58],[1.62,-1.6],[1.65,-1.6],[1.6,-1.65],[1.57,-1.62],[1.62,-1.68],[1.55,-1.6],[1.38,-1.62],[1.45,-1.68],[1.52,-1.4],[1.6,-1.4]
];

// ---------------- drawing ----------------
const NS = 'http://www.w3.org/2000/svg';
const svg = document.getElementById('fig');
const AX_TOP = 35, AX_H = 526, AX_W = 641;
function mk(tag, attrs, parent) {
  const e = document.createElementNS(NS, tag);
  for (const k in attrs) e.setAttribute(k, attrs[k]);
  (parent || svg).appendChild(e);
  return e;
}
function fmt(v, dec) {
  const s = v.toFixed(dec);
  return s.replace('-', '\u2212');
}
function panel(key, title, left, xDom, yDom, xTicks, yTicks, dec, pts, rows) {
  const g = mk('g', {});
  
  
  const sx = v => left + (v - xDom[0]) / (xDom[1] - xDom[0]) * AX_W;
  const sy = v => AX_TOP + AX_H - (v - yDom[0]) / (yDom[1] - yDom[0]) * AX_H;
  const cp = mk('clipPath', {id: 'clip-' + key}, g);
  mk('rect', {x: left, y: AX_TOP, width: AX_W, height: AX_H}, cp);
  const pg = mk('g', {'clip-path': 'url(#clip-' + key + ')'}, g);
  
  
  const all = [];
  if (rows) rows.forEach(r => r[1].forEach(x => all.push([x, r[0]])));
  pts.forEach(p => all.push(p));
  all.forEach(p => {
    const c = mk('circle', {cx: sx(p[0]).toFixed(1), cy: sy(p[1]).toFixed(1), r: 5, fill: '#1f77b4', 'fill-opacity': 0.8}, pg);
    
    
  });
  const frame = mk('rect', {x: left, y: AX_TOP, width: AX_W, height: AX_H, fill: 'none', stroke: '#000', 'stroke-width': 1.1}, g);
  
  
  xTicks.forEach(t => {
    const x = sx(t);
    mk('line', {x1: x, x2: x, y1: AX_TOP + AX_H, y2: AX_TOP + AX_H + 5, stroke: '#000', 'stroke-width': 1}, g);
    const tx = mk('text', {x: x, y: AX_TOP + AX_H + 20, 'text-anchor': 'middle', 'font-size': 13.9, fill: '#000'}, g);
    tx.textContent = fmt(t, dec);
    
    
  });
  yTicks.forEach(t => {
    const y = sy(t);
    mk('line', {x1: left - 5, x2: left, y1: y, y2: y, stroke: '#000', 'stroke-width': 1}, g);
    const tx = mk('text', {x: left - 8, y: y + 5, 'text-anchor': 'end', 'font-size': 13.9, fill: '#000'}, g);
    tx.textContent = fmt(t, dec);
    
    
  });
  const tt = mk('text', {x: left + AX_W / 2, y: 26, 'text-anchor': 'middle', 'font-size': 16.7, fill: '#000'}, g);
  tt.textContent = title;
  
  
}
panel('pca', 'PCA', 45, [-8.3, 14.2], [-7.33, 9.25], pcaXTicks, pcaYTicks, 0, pcaPts, pcaCoreRows);
panel('tsne', 't-SNE', 745, [-57.3, 67.7], [-50.2, 56], tsneXTicks, tsneYTicks, 0, tsnePts, null);
panel('umap', 'UMAP', 1445, [-9.19, 18.1], [-4.12, 12.9], umapXTicks, umapYTicks, 0, umapPts, umapCoreRows);
panel('gtm', 'GTM', 2145, [-1.883, 1.853], [-1.85, 1.864], gtmXTicks, gtmYTicks, 1, gtmPts, null);
</script>
</body></html>
